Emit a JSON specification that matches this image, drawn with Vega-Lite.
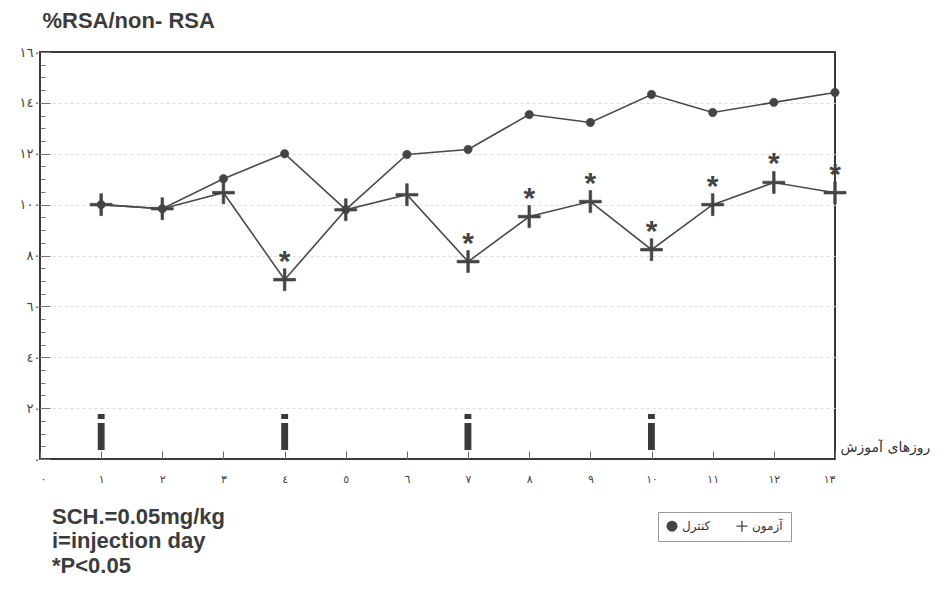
{
  "$schema": "https://vega.github.io/schema/vega-lite/v6.json",
  "autosize": {"type": "none"},
  "padding": {"left": 40, "top": 52, "right": 112, "bottom": 131},
  "width": 795,
  "height": 407,
  "background": "white",
  "config": {"view": {"stroke": "#3a3a3a", "strokeWidth": 2}, "font": "Liberation Sans"},
  "title": {
    "text": ["SCH.=0.05mg/kg", "i=injection day", "*P<0.05"],
    "orient": "bottom",
    "anchor": "start",
    "frame": "group",
    "dx": 12,
    "offset": -35,
    "fontSize": 22,
    "fontWeight": "bold",
    "lineHeight": 24.5,
    "color": "#3c3c3c",
    "font": "Liberation Sans"
  },
  "datasets": {
    "main": [
      {"day": 1, "series": "کنترل", "value": 100, "sig": false, "inj": true},
      {"day": 2, "series": "کنترل", "value": 98.4, "sig": false, "inj": false},
      {"day": 3, "series": "کنترل", "value": 110.2, "sig": false, "inj": false},
      {"day": 4, "series": "کنترل", "value": 120, "sig": false, "inj": true},
      {"day": 5, "series": "کنترل", "value": 98, "sig": false, "inj": false},
      {"day": 6, "series": "کنترل", "value": 119.7, "sig": false, "inj": false},
      {"day": 7, "series": "کنترل", "value": 121.7, "sig": false, "inj": true},
      {"day": 8, "series": "کنترل", "value": 135.4, "sig": false, "inj": false},
      {"day": 9, "series": "کنترل", "value": 132.3, "sig": false, "inj": false},
      {"day": 10, "series": "کنترل", "value": 143.3, "sig": false, "inj": true},
      {"day": 11, "series": "کنترل", "value": 136.2, "sig": false, "inj": false},
      {"day": 12, "series": "کنترل", "value": 140.2, "sig": false, "inj": false},
      {"day": 13, "series": "کنترل", "value": 144.1, "sig": false, "inj": false},
      {"day": 1, "series": "آزمون", "value": 100, "sig": false, "inj": false},
      {"day": 2, "series": "آزمون", "value": 98.4, "sig": false, "inj": false},
      {"day": 3, "series": "آزمون", "value": 104.7, "sig": false, "inj": false},
      {"day": 4, "series": "آزمون", "value": 70.5, "sig": true, "inj": false},
      {"day": 5, "series": "آزمون", "value": 98, "sig": false, "inj": false},
      {"day": 6, "series": "آزمون", "value": 103.9, "sig": false, "inj": false},
      {"day": 7, "series": "آزمون", "value": 77.6, "sig": true, "inj": false},
      {"day": 8, "series": "آزمون", "value": 95.3, "sig": true, "inj": false},
      {"day": 9, "series": "آزمون", "value": 101.2, "sig": true, "inj": false},
      {"day": 10, "series": "آزمون", "value": 82.3, "sig": true, "inj": false},
      {"day": 11, "series": "آزمون", "value": 100, "sig": true, "inj": false},
      {"day": 12, "series": "آزمون", "value": 108.7, "sig": true, "inj": false},
      {"day": 13, "series": "آزمون", "value": 104.7, "sig": true, "inj": false}
    ]
  },
  "data": {"name": "main"},
  "encoding": {
    "x": {
      "field": "day",
      "type": "quantitative",
      "scale": {"domain": [0, 13], "nice": false, "zero": false},
      "axis": {
        "title": "روزهای آموزش",
        "titleFont": "DejaVu Sans",
        "titleFontSize": 14,
        "titleFontWeight": "normal",
        "titleColor": "#333",
        "titleAngle": 0,
        "titleAlign": "left",
        "titleBaseline": "middle",
        "titleX": 800,
        "titleY": -12,
        "values": [0, 1, 2, 3, 4, 5, 6, 7, 8, 9, 10, 11, 12, 13],
        "domain": false,
        "grid": false,
        "tickSize": -8,
        "tickColor": "#666",
        "tickWidth": 1,
        "labelPadding": 22,
        "labelFont": "DejaVu Sans",
        "labelFontSize": 11,
        "labelColor": "#444",
        "labelExpr": "replace(replace(replace(replace(replace(replace(replace(replace(replace(replace(datum.label,/0/g,'٠'),/1/g,'١'),/2/g,'٢'),/3/g,'٣'),/4/g,'٤'),/5/g,'٥'),/6/g,'٦'),/7/g,'٧'),/8/g,'٨'),/9/g,'٩')"
      }
    },
    "y": {
      "field": "value",
      "type": "quantitative",
      "scale": {"domain": [0, 160], "nice": false},
      "axis": {
        "title": "%RSA/non- RSA",
        "titleFont": "Liberation Sans",
        "titleFontSize": 22,
        "titleFontWeight": "bold",
        "titleColor": "#3c3c3c",
        "titleAngle": 0,
        "titleAlign": "left",
        "titleBaseline": "alphabetic",
        "titleX": 2,
        "titleY": -25,
        "values": [0, 5, 10, 15, 20, 25, 30, 35, 40, 45, 50, 55, 60, 65, 70, 75, 80, 85, 90, 95, 100, 105, 110, 115, 120, 125, 130, 135, 140, 145, 150, 155, 160],
        "domain": false,
        "grid": true,
        "gridColor": "#dcdcdc",
        "gridDash": [3, 3],
        "gridOpacity": {"condition": {"test": "datum.value % 20 === 0 && datum.value > 0 && datum.value < 160", "value": 1}, "value": 0},
        "tickSize": {"condition": {"test": "datum.value % 20 === 0", "value": -10}, "value": -5},
        "tickColor": "#777",
        "tickWidth": 1,
        "labelPadding": 10,
        "labelFont": "DejaVu Sans",
        "labelFontSize": 13,
        "labelColor": "#444",
        "labelExpr": "datum.value % 20 === 0 ? replace(replace(replace(replace(replace(replace(replace(replace(replace(replace(datum.label,/0/g,'٠'),/1/g,'١'),/2/g,'٢'),/3/g,'٣'),/4/g,'٤'),/5/g,'٥'),/6/g,'٦'),/7/g,'٧'),/8/g,'٨'),/9/g,'٩') : ''"
      }
    }
  },
  "layer": [
    {
      "mark": {"type": "line", "color": "#4a4a4a", "strokeWidth": 1.6},
      "encoding": {"detail": {"field": "series", "type": "nominal"}}
    },
    {
      "mark": {"type": "point", "filled": true, "color": "#444", "fill": "#444", "stroke": "#444", "strokeWidth": 0.6, "opacity": 1, "fillOpacity": 1},
      "encoding": {
        "shape": {
          "field": "series",
          "type": "nominal",
          "scale": {"domain": ["کنترل", "آزمون"], "range": ["circle", "M-1,-0.12H-0.12V-1H0.12V-0.12H1V0.12H0.12V1H-0.12V0.12H-1Z"]},
          "legend": {
            "orient": "none",
            "legendX": 618,
            "legendY": 460,
            "direction": "horizontal",
            "title": null,
            "strokeColor": "#999",
            "padding": 8,
            "labelFont": "DejaVu Sans",
            "labelFontSize": 12,
            "labelColor": "#333",
            "symbolSize": 120,
            "symbolFillColor": "#444",
            "symbolStrokeColor": "#444",
            "symbolStrokeWidth": 0.6,
            "columnPadding": 24,
            "symbolOpacity": 1,
            "encode": {"symbols": {"update": {
              "stroke": {"value": "#444"},
              "strokeWidth": {"value": 1.2},
              "fill": {"value": "#444"},
              "size": [{"test": "datum.value === 'آزمون'", "value": 240}, {"value": 80}]
            }}}
          }
        },
        "size": {
          "condition": {"test": "datum.series === 'آزمون'", "value": 484},
          "value": 70
        }
      }
    },
    {
      "transform": [{"filter": "datum.sig"}],
      "mark": {"type": "text", "text": "*", "fontSize": 30, "fontWeight": "bold", "font": "Liberation Sans", "color": "#444", "dy": -18, "baseline": "middle"}
    },
    {
      "transform": [{"filter": "datum.inj"}],
      "mark": {"type": "text", "text": "i", "fontSize": 50, "fontWeight": "bold", "font": "Liberation Sans", "color": "#3a3a3a", "baseline": "alphabetic"},
      "encoding": {
        "y": {"datum": 3.5}
      }
    }
  ]
}
